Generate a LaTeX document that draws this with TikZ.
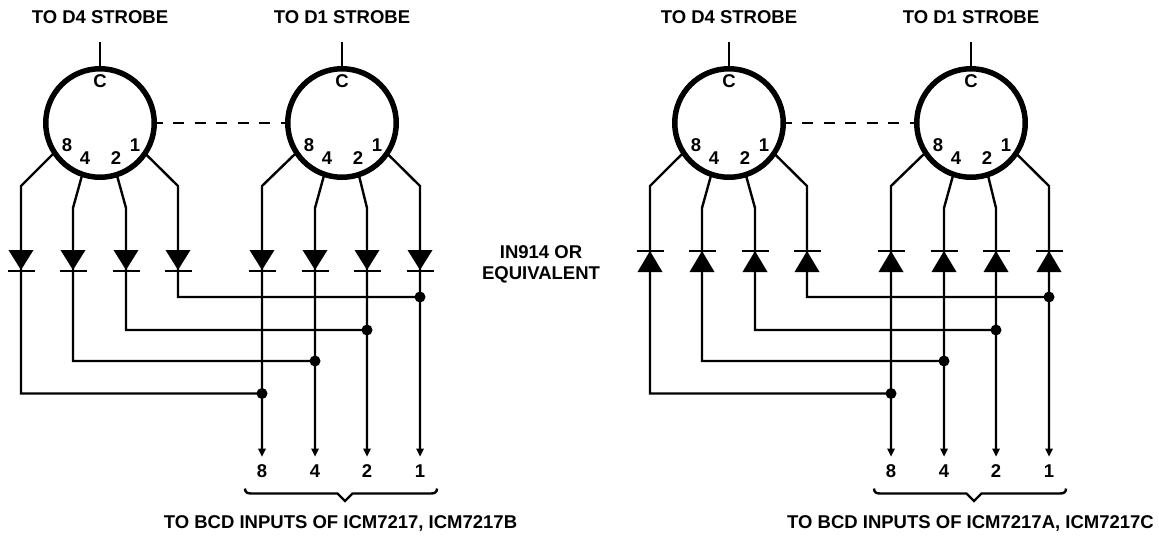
\documentclass[tikz,border=0pt]{standalone}
\usepackage{fontspec}
\setmainfont{Liberation Sans}
\begin{document}
\begin{tikzpicture}[x=1pt,y=-1pt,
  wire/.style={line width=2.4pt,line join=miter},
  ring/.style={circle,draw,line width=5.5pt,minimum size=108.5pt,inner sep=0pt,outer sep=0pt},
  lbl/.style={font=\fontsize{18.5}{21}\bfseries\selectfont,inner sep=0pt,align=center,anchor=center},
  digit/.style={font=\fontsize{18.5}{21}\bfseries\selectfont,inner sep=0pt,text height=13.2pt,text depth=0pt,anchor=center},
  junction/.style={circle,fill,inner sep=0pt,minimum size=11pt},
  brace/.style={line width=2.4pt,line join=miter}]
\useasboundingbox (0,0) rectangle (1159,536);
\node[lbl] (mid) at (541,264.5) {IN914 OR\\EQUIVALENT};
\foreach \p/\ox/\dy in {A/0/0,B/629/1}{
\begin{scope}[xshift=\ox pt]
 \node[digit] (\p t4) at (100,17) {TO D4 STROBE};
 \node[digit] (\p t1) at (342,17) {TO D1 STROBE};
 \node[ring] (\p c4) at (100,123) {};
 \node[ring] (\p c1) at (342,123) {};
 \coordinate (\p s4) at (100,42);
 \coordinate (\p s1) at (342,42);
 \draw[wire] (\p s4) -- (\p c4.north);
 \draw[wire] (\p s1) -- (\p c1.north);
 \draw[wire,line width=2.6pt,dash pattern=on 11pt off 10.5pt,dash phase=2.5pt] (\p c4.east) -- (\p c1.west);
 \foreach \cc/\cx in {4/100,1/342}{
  \node[digit] (\p C\cc) at (\cx,81) {C};
  \node[digit] (\p L8\cc) at (\cx-33,145) {8};
  \node[digit] (\p L4\cc) at (\cx-15,158) {4};
  \node[digit] (\p L2\cc) at (\cx+16,158) {2};
  \node[digit] (\p L1\cc) at (\cx+35,145) {1};
 }
 \foreach \x/\ang/\ybend/\bus/\jx/\n in {
   21/213.7/186/393.5/262/a, 73/251.5/208/361/315/b, 126/288.5/208/330/367/c, 178/326.3/186/297/420/d}{
   \coordinate (\p k\n) at (\x,\ybend);
   \coordinate (\p m\n) at (\x,\bus);
   \node[junction] (\p j\n) at (\jx,\bus) {};
   \draw[wire] (\p c4.\ang) -- (\p k\n) -- (\p m\n) -- (\p j\n.center);
   \pgfmathsetmacro{\base}{\dy==0 ? 250 : 272}
   \pgfmathsetmacro{\apex}{\dy==0 ? 270 : 251}
   \pgfmathsetmacro{\bar}{\dy==0 ? 271 : 251}
   \fill (\x-12.5,\base) -- (\x+12.5,\base) -- (\x,\apex) -- cycle;
   \draw[wire] (\x-13.5,\bar) -- (\x+13.5,\bar);
 }
 \foreach \x/\ang/\ybend/\txt/\n in {262/213.7/186/8/e, 315/251.5/208/4/f, 367/288.5/208/2/g, 420/326.3/186/1/h}{
   \coordinate (\p k\n) at (\x,\ybend);
   \coordinate (\p e\n) at (\x,449);
   \node[digit] (\p o\n) at (\x,471) {\txt};
   \draw[wire] (\p c1.\ang) -- (\p k\n) -- (\p e\n);
   \fill (\x-4,448.5) -- (\x+4,448.5) -- (\x,456.5) -- cycle;
   \pgfmathsetmacro{\base}{\dy==0 ? 250 : 272}
   \pgfmathsetmacro{\apex}{\dy==0 ? 270 : 251}
   \pgfmathsetmacro{\bar}{\dy==0 ? 271 : 251}
   \fill (\x-12.5,\base) -- (\x+12.5,\base) -- (\x,\apex) -- cycle;
   \draw[wire] (\x-13.5,\bar) -- (\x+13.5,\bar);
 }
 \coordinate (\p bl) at (245,488.5);
 \coordinate (\p br) at (437,488.5);
 \coordinate (\p bt) at (345,501);
 \draw[brace] (\p bl) .. controls (245,492) and (247,493.5) .. (251,493.5) -- (337.5,493.5) -- (\p bt) -- (352.5,493.5) -- (431,493.5) .. controls (435,493.5) and (437,492) .. (\p br);
\end{scope}
}
\node[digit] (bl) at (340.5,521.5) {TO BCD INPUTS OF ICM7217, ICM7217B};
\node[digit] (br) at (970.5,521.5) {TO BCD INPUTS OF ICM7217A, ICM7217C};
\end{tikzpicture}
\end{document}
